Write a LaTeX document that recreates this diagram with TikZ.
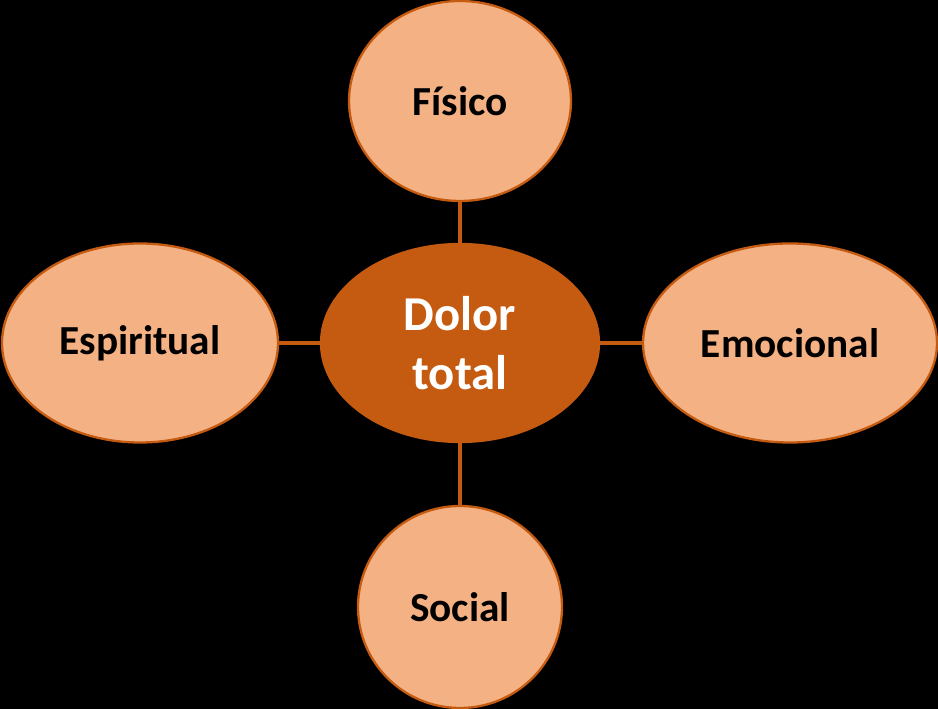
\documentclass[tikz,border=0pt]{standalone}
\usepackage{fontspec}
\setmainfont{Carlito}
\usetikzlibrary{shapes.geometric}
\definecolor{painorange}{HTML}{C55A11}
\definecolor{painpeach}{HTML}{F4B183}

\tikzset{
  outer/.style={ellipse,draw=painorange,fill=painpeach,line width=1.3pt,inner sep=0pt,
    font=\fontsize{23.5}{28}\selectfont\bfseries,text=black},
  hub/.style={ellipse,draw=painorange,fill=painorange,line width=1.3pt,inner sep=0pt,
    font=\fontsize{27.7}{34}\selectfont\bfseries,text=white,align=center},
  link/.style={painorange,line width=2.8pt}
}

\begin{document}
\begin{tikzpicture}[x=1cm,y=1cm]
  \fill[black] (0,0) rectangle (18.76,14.18);
  \useasboundingbox (0,0) rectangle (18.76,14.18);
  \node[hub,minimum width=5.56cm,minimum height=3.96cm] (dolor) at (9.2,7.32) {Dolor\\total};
  \node[outer,minimum width=4.44cm,minimum height=4.0cm] (fisico) at (9.2,12.16) {Físico};
  \node[outer,minimum width=5.52cm,minimum height=3.98cm] (espiritual) at (2.8,7.32) {Espiritual};
  \node[outer,minimum width=5.88cm,minimum height=3.98cm] (emocional) at (15.8,7.32) {Emocional};
  \node[outer,minimum width=4.08cm,minimum height=4.04cm] (social) at (9.2,2.04) {Social};
  \draw[link] (fisico) -- (dolor);
  \draw[link] (espiritual) -- (dolor);
  \draw[link] (emocional) -- (dolor);
  \draw[link] (social) -- (dolor);
\end{tikzpicture}
\end{document}
